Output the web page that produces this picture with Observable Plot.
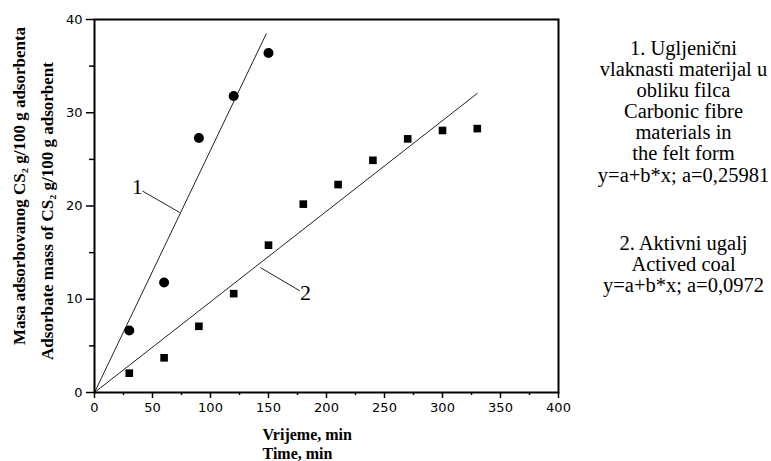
<!DOCTYPE html>
<html><head><meta charset="utf-8">
<script src="https://cdn.jsdelivr.net/npm/d3@7"></script>
<script src="https://cdn.jsdelivr.net/npm/@observablehq/plot@0.6"></script>
<style>body{margin:0;background:#fff;}</style>
</head><body><div id="chart"></div>
<script>
// Series 1: carbonic fibre felt (circles)
const timeFibre = [30, 60, 90, 120, 150];
const massFibre = [6.65, 11.8, 27.3, 31.8, 36.4];
// Series 2: active coal (squares)
const timeCoal = [30, 60, 90, 120, 150, 180, 210, 240, 270, 300, 330];
const massCoal = [2.07, 3.72, 7.1, 10.6, 15.8, 20.2, 22.3, 24.9, 27.2, 28.1, 28.3];
// Linear fits y = b*x (through origin)
const fitSlopes = [0.25981, 0.0972];
const fitEndTimes = [148, 330];
// Curve labels with leader lines
const curveLabels = ["1", "2"];
const curveLabelX = [36.8, 182];
const curveLabelY = [22, 10.65];
const leaderX1 = [41.4, 143];
const leaderY1 = [21.6, 13.4];
const leaderX2 = [73.5, 177];
const leaderY2 = [19.3, 10.9];
// Ticks
const xTickValues = [0, 50, 100, 150, 200, 250, 300, 350, 400];
const xMinorTicks = [25, 75, 125, 175, 225, 275, 325, 375];
const yTickValues = [0, 10, 20, 30, 40];
const yMinorTicks = [5, 15, 25, 35];
// Texts
const yLabelLines = ["Masa adsorbovanog CS\u2082 g/100 g adsorbenta", "Adsorbate mass of CS\u2082 g/100 g adsorbent"];
const xLabelLines = ["Vrijeme, min", "Time, min"];
const legend1 = ["1. Ugljenični", "vlaknasti materijal u", "obliku filca", "Carbonic fibre", "materials in", "the felt form", "y=a+b*x; a=0,25981"];
const legend2 = ["2. Aktivni ugalj", "Actived coal", "y=a+b*x; a=0,0972"];

const fibre = timeFibre.map((t, i) => ({t, m: massFibre[i]}));
const coal = timeCoal.map((t, i) => ({t, m: massCoal[i]}));
const fits = fitSlopes.map((b, i) => [{t: 0, m: 0, k: i}, {t: fitEndTimes[i], m: b * fitEndTimes[i], k: i}]).flat();
const labels = curveLabels.map((s, i) => ({s, x: curveLabelX[i], y: curveLabelY[i], x1: leaderX1[i], y1: leaderY1[i], x2: leaderX2[i], y2: leaderY2[i]}));

const serif = "Liberation Serif";
const chart = Plot.plot({
  width: 771, height: 461,
  marginLeft: 94, marginRight: 213, marginTop: 19, marginBottom: 69,
  x: {domain: [0, 400], label: null},
  y: {domain: [0, 40], label: null},
  style: {fontFamily: "DejaVu Sans", fontSize: "12.5px", color: "black", background: "white"},
  marks: [
    Plot.axisX(xTickValues, {tickSize: 6, tickPadding: 4, strokeWidth: 1.5, label: null, fontSize: 13}),
    Plot.axisX(xMinorTicks, {tickSize: 3, strokeWidth: 1.5, label: null, fill: "none", tickFormat: () => ""}),
    Plot.axisY(yTickValues, {tickSize: 8, tickPadding: 4, strokeWidth: 1.5, label: null, fontSize: 13}),
    Plot.axisY(yMinorTicks, {tickSize: 5, strokeWidth: 1.5, label: null, fill: "none", tickFormat: () => ""}),
    Plot.line(fits, {x: "t", y: "m", z: "k", stroke: "#222", strokeWidth: 1}),
    Plot.link(labels, {x1: "x1", y1: "y1", x2: "x2", y2: "y2", stroke: "#222", strokeWidth: 1}),
    Plot.text(labels, {x: "x", y: "y", text: "s", fontFamily: serif, fontSize: 22, fill: "black"}),
    Plot.dot(fibre, {x: "t", y: "m", r: 5, fill: "black", symbol: "circle"}),
    Plot.dot(coal, {x: "t", y: "m", r: 4.3, fill: "black", symbol: "square"}),
    Plot.frame({stroke: "black", strokeWidth: 2}),
    // axis titles
    Plot.text([yLabelLines[0]], {frameAnchor: "left", dx: -75, dy: -20, rotate: -90, textAnchor: "middle", lineAnchor: "middle", text: d => d, fontFamily: serif, fontWeight: "bold", fontSize: 17, fill: "black"}),
    Plot.text([yLabelLines[1]], {frameAnchor: "left", dx: -47, dy: 5, rotate: -90, textAnchor: "middle", lineAnchor: "middle", text: d => d, fontFamily: serif, fontWeight: "bold", fontSize: 17, fill: "black"}),
    Plot.text([xLabelLines.join("\n")], {frameAnchor: "bottom-left", dx: 168, dy: 51, textAnchor: "start", lineAnchor: "middle", lineHeight: 1.15, text: d => d, fontFamily: serif, fontWeight: "bold", fontSize: 16, fill: "black"}),
    // legend texts
    Plot.text([legend1.join("\n")], {frameAnchor: "top-right", dx: 125, dy: 92, textAnchor: "middle", lineAnchor: "middle", text: d => d, lineHeight: 1.03, fontFamily: serif, fontSize: 20.5, fill: "black"}),
    Plot.text([legend2.join("\n")], {frameAnchor: "top-right", dx: 125, dy: 245, textAnchor: "middle", lineAnchor: "middle", text: d => d, lineHeight: 1.03, fontFamily: serif, fontSize: 20.5, fill: "black"})
  ]
});
document.getElementById("chart").appendChild(chart);
</script>
</body></html>
